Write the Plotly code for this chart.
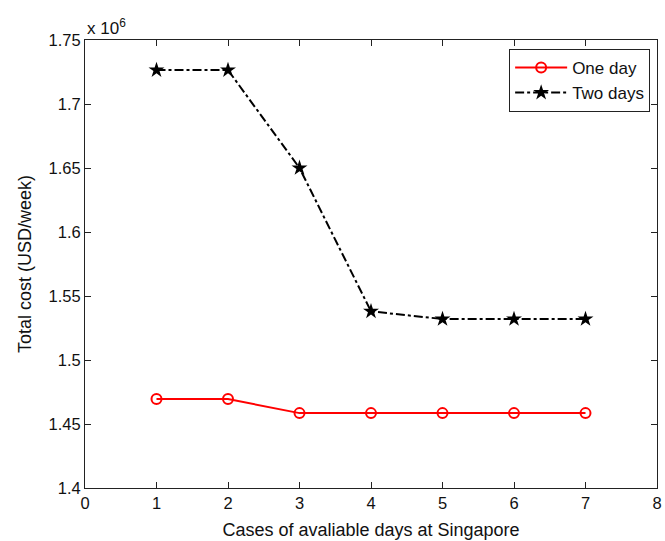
import plotly.graph_objects as go

cases = [1, 2, 3, 4, 5, 6, 7]
one_day = [1.4695, 1.4695, 1.4585, 1.4585, 1.4585, 1.4585, 1.4585]
two_days = [1.7265, 1.7265, 1.6500, 1.5380, 1.5320, 1.5320, 1.5320]
x_ticks = [0, 1, 2, 3, 4, 5, 6, 7, 8]
y_ticks = [1.4, 1.45, 1.5, 1.55, 1.6, 1.65, 1.7, 1.75]
y_labels = ["1.4", "1.45", "1.5", "1.55", "1.6", "1.65", "1.7", "1.75"]

fam = "Liberation Sans, Arial, sans-serif"
tick_font = dict(family=fam, size=16.5, color="#111111")
title_font = dict(family=fam, size=18, color="#111111")
legend_font = dict(family=fam, size=17, color="#111111")

fig = go.Figure()
fig.add_trace(go.Scatter(
    x=cases, y=one_day, name="One day", mode="lines+markers",
    line=dict(color="#ff0000", width=2),
    marker=dict(symbol="circle-open", size=10, color="#ff0000", line=dict(width=2, color="#ff0000")),
))
fig.add_trace(go.Scatter(
    x=cases, y=two_days, name="Two days", mode="lines+markers",
    line=dict(color="#000000", width=2, dash="dashdot"),
    marker=dict(symbol="star", size=12, color="#000000"),
))

axis_common = dict(
    showgrid=False, zeroline=False, ticks="inside", ticklen=6, tickwidth=1,
    tickcolor="#222222", showline=True, linecolor="#222222", linewidth=1,
    mirror="ticks", tickfont=tick_font, automargin=False,
)
fig.update_xaxes(range=[0, 8], tickvals=x_ticks, ticktext=[str(v) for v in x_ticks],
                 title=dict(text="Cases of avaliable days at Singapore", font=title_font, standoff=12),
                 **axis_common)
fig.update_yaxes(range=[1.4, 1.75], tickvals=y_ticks, ticktext=y_labels,
                 title=dict(text="Total cost (USD/week)", font=title_font, standoff=12),
                 **axis_common)

fig.add_annotation(xref="paper", yref="paper", x=0, y=1, xanchor="left", yanchor="bottom",
                   text="x 10<sup>6</sup>", showarrow=False, font=legend_font, yshift=0)

fig.update_layout(
    width=665, height=541,
    margin=dict(l=85, r=8, t=40, b=53),
    paper_bgcolor="white", plot_bgcolor="white",
    font=tick_font,
    legend=dict(x=0.988, y=0.98, xanchor="right", yanchor="top",
                bordercolor="#222222", borderwidth=1, bgcolor="white",
                font=legend_font, tracegroupgap=0, itemwidth=52),
)
fig.write_html("out.html")
